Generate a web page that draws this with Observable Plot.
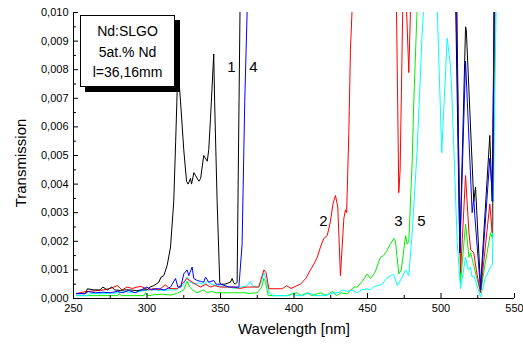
<!DOCTYPE html>
<html><head><meta charset="utf-8">
<script src="https://cdn.jsdelivr.net/npm/d3@7"></script>
<script src="https://cdn.jsdelivr.net/npm/@observablehq/plot@0.6"></script>
<style>
body{margin:0;background:#fff;}
#wrap{position:relative;width:523px;height:347px;font-family:Arial,"Liberation Sans",sans-serif;color:#000;}
#box{position:absolute;left:80px;top:15px;width:93px;height:70px;border:1px solid #000;background:#fff;box-shadow:5px 5px 0 #000;text-align:center;font-size:14px;line-height:20.5px;padding-top:0;box-sizing:content-box;}
#box div:first-child{margin-top:5px;}
#xlab{position:absolute;left:0;width:523px;top:320px;padding-left:65px;box-sizing:border-box;text-align:center;font-size:15px;}
#ylab{position:absolute;left:20px;top:163px;transform:translate(-50%,-50%) rotate(-90deg);font-size:15px;white-space:nowrap;}
</style></head>
<body>
<div id="wrap"></div>
<script>
// ---- data ----
const wl1 = [252,258,259.5,264,268,270,273,276,278,282,285,288,293,297,300,302,304.6,308,309.6,311.4,313.7,316,318.2,319.5,320.5,321.5,322.8,325,326.9,328,329.6,330.3,331.9,333,335.3,336.5,338.6,341,342,343.2,345.4,346,347.7,349.5,350,353,356.8,357.9,359,360,361.3,363.3,363.6,509.5,510,512.8,516.7,517.2,522.3,523.5,526.9,533.2,534.8,536.2,536.5];
const t1 = [0.00017,0.00017,0.00034,0.0003,0.0003,0.0004,0.0003,0.0004,0.0003,0.00028,0.0003,0.0003,0.00028,0.0003,0.0003,0.0004,0.00045,0.00057,0.00075,0.0008,0.00115,0.0018,0.0034,0.0055,0.0072,0.0078,0.0069,0.0052,0.0041,0.0040,0.0042,0.0040,0.0044,0.0043,0.0041,0.0042,0.0050,0.0048,0.0052,0.0063,0.00855,0.0069,0.0034,0.00057,0.0005,0.0005,0.00057,0.0007,0.00055,0.0005,0.00057,0.0102,0.012,0.012,0.0102,0.0016,0.0095,0.0094,0.0034,0.0039,0.0004,0.0057,0.0034,0.0102,0.012];

const wl2 = [252,258,265,270.6,275,279.7,281,283,286.5,290,293.3,296,301,304.6,308,312.6,315,320.5,325,327,330,333,336.4,340,343,346,350,355,359,363,368,372,376,379.5,381,382.9,388.6,392,395,398,402,404.4,408,411.2,413.5,415.8,418,420.3,422.6,424.8,426.5,428.2,429.8,431.6,433.9,435,435.8,437.3,438.4,439.6,440,469.3,469.7,471.3,472.2,474,474.3,476.3,476.5,478.1,479.3,479.6,510,510.5,513.3,516.7,519,520.2,522.3,524,526.9,533.2,534.8,536.5,536.8];
const t2 = [0.00017,0.00024,0.00027,0.0003,0.00035,0.00045,0.0004,0.0003,0.0004,0.00035,0.0004,0.00042,0.0003,0.00035,0.0003,0.00048,0.00035,0.00034,0.00057,0.0007,0.0006,0.0005,0.0004,0.0005,0.0004,0.00045,0.0004,0.0004,0.0004,0.00035,0.0004,0.0004,0.0004,0.001,0.0009,0.00034,0.00034,0.00034,0.00045,0.00035,0.00045,0.0005,0.0007,0.001,0.0012,0.00144,0.0018,0.0021,0.0022,0.0027,0.0033,0.0036,0.0032,0.0008,0.0028,0.0031,0.0030,0.0058,0.0087,0.0102,0.012,0.012,0.0102,0.0037,0.0045,0.0102,0.012,0.012,0.0102,0.0079,0.0102,0.012,0.012,0.0102,0.0009,0.0043,0.0023,0.0017,0.0016,0.0010,0.0002,0.0033,0.0023,0.0102,0.012];

const wl3 = [252,280,281,282.5,298,299,300.5,305,310,316,320,325,327.3,329,331,334,338.6,341,344,347,352,357,362,366,370,375,378,379.5,380.5,382.5,388,395,398,402,405,409,412,418,422,426,429,432,436.2,440.7,443,446.4,449.8,452,455,458.8,461,463.3,465.5,467.9,469,471.3,473,475.9,477,478.1,480.4,481.5,483.8,484,510,510.3,513.3,516.7,519,520.2,522.3,524,526.9,530,533.7,535,536.8,537];
const t3 = [0.0001,0.0001,0.00017,0.0001,0.0001,0.0002,0.0001,0.00013,0.00015,0.00012,0.00017,0.0003,0.0006,0.0004,0.0003,0.0002,0.0003,0.0002,0.00025,0.0002,0.0002,0.0002,0.0002,0.0002,0.00018,0.0002,0.0004,0.0007,0.0006,0.0001,0.0001,0.0001,0.00015,0.0002,0.0001,0.0002,0.0001,0.0002,0.0001,0.00025,0.0001,0.0002,0.00016,0.0004,0.0004,0.0006,0.00086,0.0007,0.0009,0.00144,0.0015,0.00168,0.0019,0.0021,0.002,0.00086,0.0010,0.0022,0.0019,0.002,0.0048,0.0069,0.0102,0.012,0.012,0.0102,0.00057,0.0026,0.00144,0.0016,0.00115,0.0008,0.0002,0.0012,0.0023,0.0021,0.0102,0.012];

const wl4 = [252,258,260,265,270,275,280,283,287.6,292,296,300,303,307,312,316,319.4,321,323,325,327.3,328.4,330.7,331.8,334.1,336.5,338.6,339.8,342,345.4,347,350,353,356,360,362.5,364.7,366.5,368.2,368.5,510.5,510.8,512.8,516.7,521.2,522.3,523,526.9,533.2,535.2,536,536.3];
const t4 = [0.00017,0.00017,0.00024,0.0002,0.00022,0.0002,0.00025,0.0002,0.00028,0.0002,0.0003,0.0004,0.0003,0.00035,0.0003,0.0004,0.0007,0.0004,0.0004,0.00086,0.001,0.0008,0.0011,0.0007,0.00063,0.0006,0.00057,0.00075,0.00057,0.00063,0.0005,0.0005,0.00045,0.0004,0.0004,0.0004,0.0019,0.0069,0.0102,0.012,0.012,0.0102,0.0016,0.0083,0.003,0.0035,0.0029,0.0003,0.0049,0.0034,0.0102,0.012];

const wl5 = [252,260,261,270,280,285,290,295,300,305,310,316,320,325,327.3,329,332,335,338.6,341,344,348,352,356,360,364,368,370.4,372,376,378,379.5,381,382.9,386,392,397,399,401,404,406,410,414,420,427,430,433,436,440,443,446,449.8,452,454,456.6,460,463,465.8,467.9,470.2,472,473.6,475.9,478.1,480.4,483.8,487.2,488.3,488.6,497.2,497.4,500.5,504.2,506.5,507.5,511,513.3,516.7,518.5,520,521.2,522.3,526.9,530,533.7,535,537.5,537.8];
const t5 = [0.0001,0.0001,0.00017,0.00017,0.0002,0.00024,0.0002,0.00025,0.0003,0.0003,0.00028,0.0003,0.0003,0.0005,0.00075,0.0006,0.0005,0.00055,0.0005,0.0006,0.0005,0.00045,0.0004,0.0004,0.00035,0.0004,0.00045,0.0006,0.00042,0.0004,0.0006,0.0009,0.0007,0.0002,0.0001,0.0001,0.0001,0.0002,0.0001,0.0001,0.0001,0.0002,0.0001,0.0001,0.0002,0.0002,0.0003,0.00025,0.0003,0.0002,0.0003,0.00034,0.0003,0.0004,0.00045,0.0005,0.0007,0.0008,0.00084,0.00045,0.0006,0.00075,0.001,0.0008,0.0023,0.0052,0.0093,0.0102,0.012,0.012,0.0102,0.0051,0.0091,0.0081,0.007,0.002,0.00034,0.00144,0.001,0.0011,0.00075,0.0008,0.00005,0.0007,0.0011,0.0012,0.0102,0.012];

const seriesNames = ["1","2","3","4","5"];
const seriesColors = ["#000000","#ff0000","#00f000","#0000ff","#00ffff"];
const xMajor = [250,300,350,400,450,500,550];
const xMinor = [275,325,375,425,475,525];
const yMajor = [0,0.001,0.002,0.003,0.004,0.005,0.006,0.007,0.008,0.009,0.010];
const yMinor = [0.0005,0.0015,0.0025,0.0035,0.0045,0.0055,0.0065,0.0075,0.0085,0.0095];
const labelText = ["1","4","2","3","5"];
const labelWl = [357.5,372.4,420,471,486.7];
const labelT = [0.0081,0.0081,0.0027,0.0027,0.0027];
const boxLines = ["Nd:SLGO","5at.% Nd","l=36,16mm"];

// ---- build table ----
const wls = [wl1,wl2,wl3,wl4,wl5];
const ts = [t1,t2,t3,t4,t5];
const drawOrder = [2,4,1,0,3];
const rows = [];
for (const s of drawOrder) wls[s].forEach((w,i) => rows.push({s: seriesNames[s], wl: w, t: ts[s][i]}));
const labels = labelText.map((t,i) => ({t, wl: labelWl[i], v: labelT[i]}));
const fmt = d => d.toFixed(3).replace(".", ",");

const plot = Plot.plot({
  width: 523, height: 347,
  marginLeft: 73, marginRight: 9, marginTop: 12, marginBottom: 49,
  style: {fontFamily: "Arial, 'Liberation Sans', sans-serif", fontSize: "11px", background: "transparent", color: "#000", overflow: "visible"},
  x: {domain: [250, 550]},
  y: {domain: [0, 0.010]},
  color: {domain: seriesNames, range: seriesColors},
  marks: [
    Plot.line(rows, {x: "wl", y: "t", z: "s", stroke: "s", strokeWidth: 1, clip: true}),
    Plot.axisX({ticks: xMajor, tickSize: -5, tickFormat: () => "", label: null}),
    Plot.axisX({ticks: xMinor, tickSize: -3, tickFormat: () => "", label: null}),
    Plot.axisX({ticks: xMajor, tickSize: 0, tickPadding: 6, tickFormat: d => String(d), label: null, fontSize: 11}),
    Plot.axisY({ticks: yMajor, tickSize: -5, tickFormat: () => "", label: null}),
    Plot.axisY({ticks: yMinor, tickSize: -3, tickFormat: () => "", label: null}),
    Plot.axisY({ticks: yMajor, tickSize: 0, tickPadding: 5, tickFormat: fmt, label: null, fontSize: 11}),
    Plot.ruleX([250], {stroke: "#000", strokeWidth: 1}),
    Plot.ruleY([0], {stroke: "#000", strokeWidth: 1}),
    Plot.text(labels, {x: "wl", y: "v", text: "t", fontSize: 15, fill: "#000"})
  ]
});
const wrap = document.getElementById("wrap");
wrap.appendChild(plot);
const box = document.createElement("div");
box.id = "box";
boxLines.forEach(l => { const d = document.createElement("div"); d.textContent = l; box.appendChild(d); });
wrap.appendChild(box);
const xl = document.createElement("div"); xl.id = "xlab"; xl.textContent = "Wavelength [nm]"; wrap.appendChild(xl);
const yl = document.createElement("div"); yl.id = "ylab"; yl.textContent = "Transmission"; wrap.appendChild(yl);
</script>
</body></html>
